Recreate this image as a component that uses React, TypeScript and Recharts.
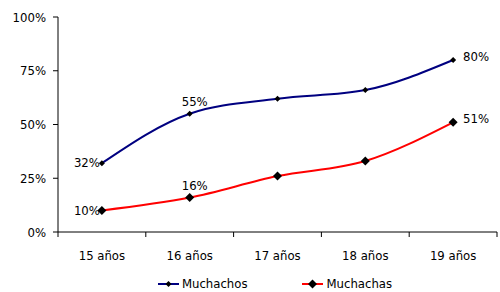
import React from "react";
import { LineChart, Line, XAxis, YAxis, Legend, LabelList } from "recharts";

const categories = ["15 años", "16 años", "17 años", "18 años", "19 años"];
const muchachos = [32, 55, 62, 66, 80];
const muchachas = [10, 16, 26, 33, 51];
const yTicks = [0, 25, 50, 75, 100];

// where each point's value label sits (null = no label)
const muchachosLabels = ["left", "top", null, null, "right"];
const muchachasLabels = ["left", "top", null, null, "right"];

const NAVY = "#000080";
const RED = "#FF0000";
const FONT = "'DejaVu Sans Condensed', 'DejaVu Sans', Verdana, sans-serif";
const FS = 13;

const data = categories.map((cat, i) => ({
  pos: i + 0.5,
  cat,
  muchachos: muchachos[i],
  muchachas: muchachas[i],
}));

// boundaries get tick marks, centres get the category names
const xTicks: number[] = [];
for (let i = 0; i <= categories.length; i++) {
  xTicks.push(i);
  if (i < categories.length) xTicks.push(i + 0.5);
}

const XTick = (props: any) => {
  const { x, y, payload } = props;
  const v = payload.value;
  if (Number.isInteger(v)) {
    return <line x1={x} y1={y} x2={x} y2={y + 5} stroke="#000" />;
  }
  return (
    <text x={x} y={y + 28} textAnchor="middle" fontSize={FS} fontFamily={FONT} fill="#000">
      {categories[Math.floor(v)]}
    </text>
  );
};

const diamond = (size: number) => (props: any) => {
  const { cx, cy, index } = props;
  return (
    <polygon
      key={`d-${index}`}
      points={`${cx},${cy - size} ${cx + size},${cy} ${cx},${cy + size} ${cx - size},${cy}`}
      fill="#000"
    />
  );
};

const pointLabel = (places: (string | null)[]) => (props: any) => {
  const { x, y, value, index } = props;
  const place = places[index];
  if (!place) return null;
  const text = `${value}%`;
  const common = { fontSize: FS, fontFamily: FONT, fill: "#000" };
  if (place === "left")
    return (
      <text x={x - 2} y={y + 4} textAnchor="end" {...common}>
        {text}
      </text>
    );
  if (place === "top")
    return (
      <text x={x + 5} y={y - 8} textAnchor="middle" {...common}>
        {text}
      </text>
    );
  return (
    <text x={x + 10} y={y + 1} textAnchor="start" {...common}>
      {text}
    </text>
  );
};

const LegendItem = ({ color, size, name }: { color: string; size: number; name: string }) => (
  <div style={{ display: "flex", alignItems: "center", height: 14 }}>
    <svg width={21} height={14} style={{ marginRight: 3 }}>
      <line x1={0} y1={7} x2={21} y2={7} stroke={color} strokeWidth={2} />
      <polygon
        points={`${10.5},${7 - size} ${10.5 + size},7 ${10.5},${7 + size} ${10.5 - size},7`}
        fill="#000"
      />
    </svg>
    <span style={{ fontSize: FS, fontFamily: FONT, lineHeight: "14px", color: "#000" }}>{name}</span>
  </div>
);

const CustomLegend = () => (
  <div
    style={{
      height: 24,
      width: 500,
      boxSizing: "border-box",
      paddingLeft: 50,
      paddingBottom: 1,
      display: "flex",
      justifyContent: "center",
      alignItems: "flex-end",
      gap: 55,
    }}
  >
    <LegendItem color={NAVY} size={3} name="Muchachos" />
    <LegendItem color={RED} size={4.5} name="Muchachas" />
  </div>
);

export default function App() {
  return (
    <div style={{ fontFamily: FONT, fontSize: FS }}>
      <style>{`body{margin:0}`}</style>
      <LineChart width={500} height={292} data={data} margin={{ top: 17, right: 3, left: 0, bottom: 0 }}>
        <XAxis
          dataKey="pos"
          type="number"
          domain={[0, categories.length]}
          ticks={xTicks}
          interval={0}
          tick={<XTick />}
          tickLine={false}
          tickSize={0}
          tickMargin={0}
          height={36}
          stroke="#000"
        />
        <YAxis
          domain={[0, 100]}
          ticks={yTicks}
          interval={0}
          tickFormatter={(v) => `${v}%`}
          tickSize={5}
          tickMargin={7}
          width={58}
          stroke="#000"
          tick={{ fill: "#000", fontSize: FS, fontFamily: FONT }}
        />
        <Legend
          verticalAlign="bottom"
          content={() => <CustomLegend />}
          wrapperStyle={{ left: 0, width: 500 }}
        />
        <Line
          type="monotone"
          dataKey="muchachos"
          name="Muchachos"
          stroke={NAVY}
          strokeWidth={2}
          dot={diamond(3)}
          activeDot={false}
          isAnimationActive={false}
        >
          <LabelList dataKey="muchachos" content={pointLabel(muchachosLabels)} />
        </Line>
        <Line
          type="monotone"
          dataKey="muchachas"
          name="Muchachas"
          stroke={RED}
          strokeWidth={2}
          dot={diamond(4.5)}
          activeDot={false}
          isAnimationActive={false}
        >
          <LabelList dataKey="muchachas" content={pointLabel(muchachasLabels)} />
        </Line>
      </LineChart>
    </div>
  );
}
